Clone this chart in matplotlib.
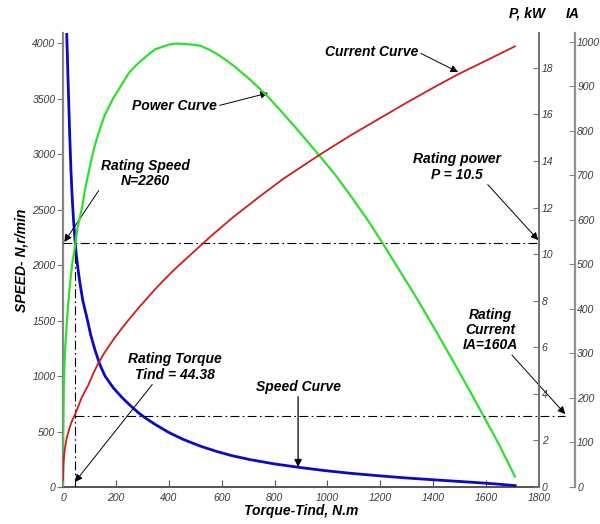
import numpy as np
import matplotlib.pyplot as plt

plt.rcParams['font.family'] = ['Liberation Sans', 'DejaVu Sans']
plt.rcParams['font.style'] = 'italic'

# torque axis limits
T_MAX = 1800
N_MAX = 4094
P_MAX = 19.5
IA_MAX = 1020

# speed curve, N (r/min) vs torque (N.m)
speed_t = [14, 16, 18, 20, 25, 30, 35, 40, 45, 50, 57, 64, 75, 90, 105, 121, 140,
           159, 190, 222, 250, 284, 310, 348, 400, 454, 520, 582, 640, 707, 800,
           896, 990, 1085, 1200, 1301, 1420, 1551, 1640, 1710]
speed_n = [4090, 3940, 3760, 3600, 3200, 2860, 2600, 2400, 2240, 2100, 1960, 1840,
           1680, 1530, 1370, 1235, 1100, 1000, 895, 810, 745, 672, 625, 565, 492,
           430, 368, 320, 282, 247, 208, 176, 148, 124, 100, 81, 62, 42, 27, 12]

# power curve, P (kW) vs torque
power_t = [0, 1, 3, 5, 9, 14, 20, 26, 35, 45, 53, 60, 72, 82, 95, 108, 121, 140,
           159, 190, 223, 250, 284, 315, 348, 375, 400, 430, 454, 490, 520, 550,
           582, 615, 650, 707, 740, 776, 820, 871, 920, 972, 1030, 1085, 1150,
           1210, 1270, 1338, 1400, 1463, 1530, 1590, 1650, 1709]
power_p = [0, 2.5, 4.2, 5.1, 6.1, 7.0, 7.9, 8.7, 9.6, 10.3, 11.0, 11.4, 12.0, 12.7,
           13.4, 14.1, 14.7, 15.4, 16.0, 16.7, 17.3, 17.8, 18.2, 18.5, 18.8, 18.9,
           19.0, 19.05, 19.03, 19.0, 18.95, 18.8, 18.6, 18.35, 18.05, 17.5, 17.15,
           16.75, 16.2, 15.55, 14.9, 14.2, 13.4, 12.55, 11.5, 10.45, 9.35, 8.1, 6.9,
           5.65, 4.3, 3.05, 1.8, 0.45]

# current curve, IA (A) vs torque
current_t = [0, 2, 5, 9, 14, 20, 26, 35, 45, 57, 70, 82, 95, 113, 133, 155, 180,
             200, 222, 250, 284, 315, 348, 380, 420, 455, 492, 560, 643, 740, 832,
             972, 1085, 1200, 1301, 1400, 1490, 1600, 1709]
current_i = [15, 55, 75, 92, 110, 123, 135, 150, 162, 180, 200, 214, 228, 253, 278,
             300, 322, 339, 356, 377, 401, 422, 444, 464, 488, 507, 527, 564, 606,
             651, 692, 747, 789, 829, 864, 897, 926, 958, 990]

# rating point
rated_t = 44.38
rated_p = 10.5
rated_i = 160

x_ticks = np.arange(0, 1801, 200)
n_ticks = np.arange(0, 4001, 500)
p_ticks = np.arange(0, 19, 2)
i_ticks = np.arange(0, 1001, 100)

lbl_color = '#3a3a3a'
ia_offset = 26  # px, second right axis

fig = plt.figure(figsize=(6, 5.24), dpi=100)
ax = fig.add_axes([63 / 600, 37 / 524, 476 / 600, 454 / 524])
ax_p = ax.twinx()
ax_i = ax.twinx()
ax_i.spines['right'].set_position(('outward', ia_offset))

ax.plot(speed_t, speed_n, color='#0a0ac8', lw=2.0, zorder=3)
ax_p.plot(power_t, power_p, color='#2ee02e', lw=1.6, zorder=3)
ax_i.plot(current_t, current_i, color='#d01c1c', lw=1.3, zorder=3)

# rating lines
dash = dict(color='black', lw=0.8, linestyle=(0, (8, 3, 1.5, 3)))
ax_p.axhline(rated_p, **dash)
ax_p.plot([rated_t, rated_t], [0, rated_p], **dash)
x_end = T_MAX * (1 + ia_offset / 476)
ax_i.plot([rated_t, x_end], [rated_i, rated_i], clip_on=False, **dash)

ax.set_xlim(0, T_MAX)
ax.set_ylim(0, N_MAX)
ax_p.set_ylim(0, P_MAX)
ax_i.set_ylim(0, IA_MAX)

ax.set_xticks(x_ticks)
ax.set_yticks(n_ticks)
ax_p.set_yticks(p_ticks)
ax_i.set_yticks(i_ticks)

for a in (ax, ax_p, ax_i):
    a.spines['top'].set_visible(False)
    a.patch.set_visible(False)
ax.spines['right'].set_visible(False)
ax_p.spines['left'].set_visible(False)
ax_i.spines['left'].set_visible(False)
ax_p.spines['bottom'].set_visible(False)
ax_i.spines['bottom'].set_visible(False)

ax.spines['left'].set_color('#858585')
ax.spines['left'].set_linewidth(1.6)
ax.spines['bottom'].set_color('#555555')
ax.spines['bottom'].set_linewidth(1.4)
ax_p.spines['right'].set_color('#707070')
ax_p.spines['right'].set_linewidth(1.4)
ax_i.spines['right'].set_color('#909090')
ax_i.spines['right'].set_linewidth(1.6)

ax.tick_params(axis='y', direction='out', length=4, width=0.8, color='#777777',
               labelsize=7.5, labelcolor=lbl_color, pad=1.5)
ax.tick_params(axis='x', direction='in', length=5, width=0.8, color='#555555',
               labelsize=7.5, labelcolor=lbl_color, pad=4)
ax_p.tick_params(axis='y', direction='in', length=4, width=0.8, color='#777777',
                 labelsize=7.5, labelcolor=lbl_color, pad=2)
ax_i.tick_params(axis='y', direction='in', length=4, width=0.8, color='#888888',
                 labelsize=7.5, labelcolor=lbl_color, pad=1.5)

bi = dict(fontweight='bold', fontstyle='italic', color='black')
ax.set_xlabel('Torque-Tind, N.m', fontsize=10, labelpad=1, **bi)
ax.set_ylabel('SPEED- N,r/min', fontsize=10, labelpad=3, **bi)
fig.text(527 / 600, 1 - 14 / 524, 'P, kW', ha='center', va='center', fontsize=10, **bi)
fig.text(573 / 600, 1 - 14 / 524, 'IA', ha='center', va='center', fontsize=10, **bi)

arrow = dict(arrowstyle='-|>', color='black', lw=0.7, mutation_scale=11,
             shrinkA=0, shrinkB=0)
fs = 10
ls = 1.12

ax.annotate('Rating Speed\nN=2260', xy=(5, 2210), xytext=(310, 2830),
            ha='center', va='center', fontsize=fs, linespacing=ls,
            arrowprops=dict(arrow, relpos=(0.0, 0.0)), **bi)
ax.annotate('Power Curve', xy=(775, 3553), xytext=(582, 3435),
            ha='right', va='center', fontsize=fs,
            arrowprops=dict(arrow, relpos=(1.0, 0.5)), **bi)
ax.annotate('Current Curve', xy=(1494, 3742), xytext=(1343, 3922),
            ha='right', va='center', fontsize=fs,
            arrowprops=dict(arrow, relpos=(1.0, 0.5)), **bi)
ax.annotate('Rating power\nP = 10.5', xy=(1797, 2227), xytext=(1490, 2885),
            ha='center', va='center', fontsize=fs, linespacing=ls,
            arrowprops=dict(arrow, relpos=(0.82, 0.0)), **bi)
ax.annotate('Rating\nCurrent\nIA=160A', xy=(1899, 658), xytext=(1615, 1416),
            ha='center', va='center', fontsize=fs, linespacing=ls,
            annotation_clip=False,
            arrowprops=dict(arrow, relpos=(0.85, 0.0)), **bi)
ax.annotate('Rating Torque\nTind = 44.38', xy=(45, 45), xytext=(424, 1082),
            ha='center', va='center', fontsize=fs, linespacing=ls,
            arrowprops=dict(arrow, relpos=(0.28, 0.0)), **bi)
ax.annotate('Speed Curve', xy=(889, 180), xytext=(889, 902),
            ha='center', va='center', fontsize=fs,
            arrowprops=dict(arrow, lw=0.9, relpos=(0.5, 0.0)), **bi)

fig.savefig('out.png', dpi=100)
